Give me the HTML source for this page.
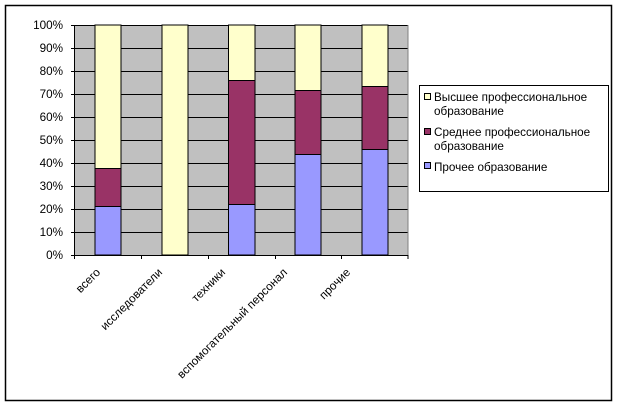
<!DOCTYPE html>
<html><head><meta charset="utf-8"><style>body{margin:0;background:#fff}svg{display:block}</style></head>
<body>
<svg width="619" height="407" xmlns="http://www.w3.org/2000/svg" font-family="Liberation Sans, Arial, sans-serif" font-size="11.7">
<rect x="5.5" y="5.5" width="606" height="395" fill="#fff" stroke="#000" stroke-width="1.5"/>
<rect x="74.5" y="25" width="333.5" height="230" fill="#c0c0c0"/>
<g stroke="#000" stroke-width="1">
<line x1="74.5" x2="408" y1="25.5" y2="25.5"/><line x1="74.5" x2="408" y1="48.5" y2="48.5"/>
<line x1="74.5" x2="408" y1="71.5" y2="71.5"/><line x1="74.5" x2="408" y1="94.5" y2="94.5"/>
<line x1="74.5" x2="408" y1="117.5" y2="117.5"/><line x1="74.5" x2="408" y1="140.5" y2="140.5"/>
<line x1="74.5" x2="408" y1="163.5" y2="163.5"/><line x1="74.5" x2="408" y1="186.5" y2="186.5"/>
<line x1="74.5" x2="408" y1="209.5" y2="209.5"/><line x1="74.5" x2="408" y1="232.5" y2="232.5"/>
</g>
<line x1="408" x2="408" y1="25" y2="255" stroke="#808080"/>
<g stroke="#000" stroke-width="1">
<rect x="95" y="25" width="26" height="143.5" fill="#ffffcc"/>
<rect x="95" y="168.5" width="26" height="38" fill="#993366"/>
<rect x="95" y="206.5" width="26" height="48.5" fill="#9999ff"/>
<rect x="162" y="25" width="26" height="230" fill="#ffffcc"/>
<rect x="228.5" y="25" width="26.5" height="55.5" fill="#ffffcc"/>
<rect x="228.5" y="80.5" width="26.5" height="124" fill="#993366"/>
<rect x="228.5" y="204.5" width="26.5" height="50.5" fill="#9999ff"/>
<rect x="295" y="25" width="26" height="65.5" fill="#ffffcc"/>
<rect x="295" y="90.5" width="26" height="64" fill="#993366"/>
<rect x="295" y="154.5" width="26" height="100.5" fill="#9999ff"/>
<rect x="362" y="25" width="26" height="61.5" fill="#ffffcc"/>
<rect x="362" y="86.5" width="26" height="63" fill="#993366"/>
<rect x="362" y="149.5" width="26" height="105.5" fill="#9999ff"/>
</g>
<g stroke="#000" stroke-width="1">
<line x1="74.5" x2="74.5" y1="25" y2="259"/>
<line x1="74.5" x2="408" y1="255.5" y2="255.5"/>
<line x1="71" x2="74.5" y1="25.5" y2="25.5"/><line x1="71" x2="74.5" y1="48.5" y2="48.5"/>
<line x1="71" x2="74.5" y1="71.5" y2="71.5"/><line x1="71" x2="74.5" y1="94.5" y2="94.5"/>
<line x1="71" x2="74.5" y1="117.5" y2="117.5"/><line x1="71" x2="74.5" y1="140.5" y2="140.5"/>
<line x1="71" x2="74.5" y1="163.5" y2="163.5"/><line x1="71" x2="74.5" y1="186.5" y2="186.5"/>
<line x1="71" x2="74.5" y1="209.5" y2="209.5"/><line x1="71" x2="74.5" y1="232.5" y2="232.5"/>
<line x1="71" x2="74.5" y1="255.5" y2="255.5"/>
<line x1="141.5" x2="141.5" y1="255" y2="259"/><line x1="208.5" x2="208.5" y1="255" y2="259"/>
<line x1="275.5" x2="275.5" y1="255" y2="259"/><line x1="341.5" x2="341.5" y1="255" y2="259"/>
<line x1="408" x2="408" y1="255" y2="259"/>
</g>
<g text-anchor="end">
<text x="63" y="29">100%</text><text x="63" y="52">90%</text><text x="63" y="75">80%</text>
<text x="63" y="98">70%</text><text x="63" y="121">60%</text><text x="63" y="144">50%</text>
<text x="63" y="167">40%</text><text x="63" y="190">30%</text><text x="63" y="213">20%</text>
<text x="63" y="236">10%</text><text x="63" y="259">0%</text>
<text transform="translate(101,273) rotate(-45)">всего</text>
<text transform="translate(163,273) rotate(-45)">исследователи</text>
<text transform="translate(226,273) rotate(-45)">техники</text>
<text transform="translate(288,273) rotate(-45)">вспомогательный персонал</text>
<text transform="translate(351,273) rotate(-45)">прочие</text>
</g>
<rect x="419.5" y="85.5" width="189" height="106" fill="#fff" stroke="#000"/>
<rect x="424.5" y="93.5" width="6" height="6" fill="#ffffcc" stroke="#000"/>
<rect x="424.5" y="128.5" width="6" height="6" fill="#993366" stroke="#000"/>
<rect x="424.5" y="162.5" width="6" height="6" fill="#9999ff" stroke="#000"/>
<text x="434" y="101">Высшее профессиональное</text>
<text x="434" y="115">образование</text>
<text x="434" y="136">Среднее профессиональное</text>
<text x="434" y="150">образование</text>
<text x="434" y="171">Прочее образование</text>
</svg>
</body></html>
